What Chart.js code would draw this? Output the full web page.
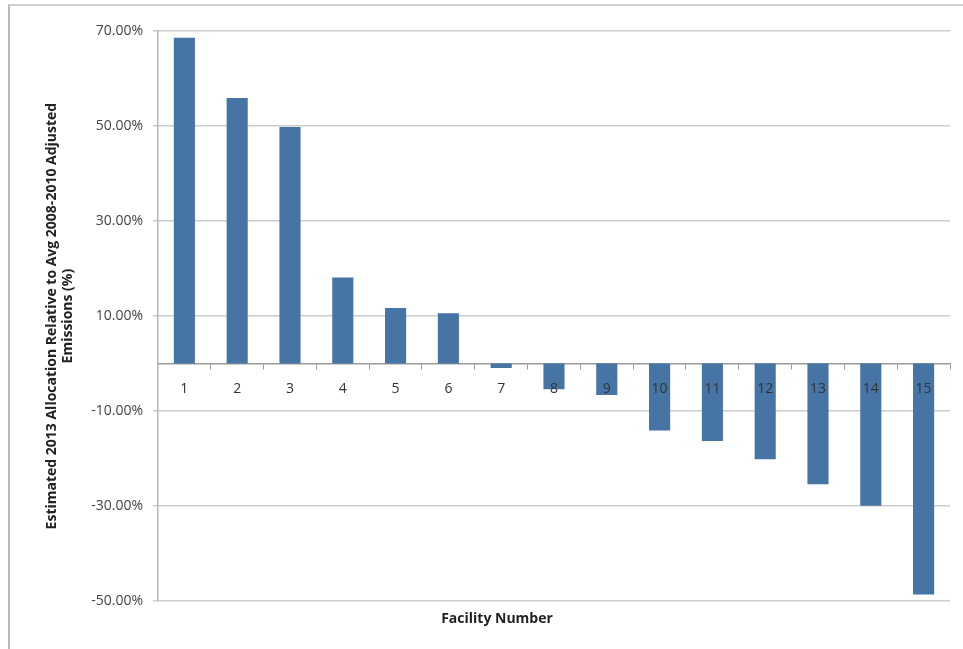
<!DOCTYPE html>
<html>
<head>
<meta charset="utf-8">
<script src="https://cdn.jsdelivr.net/npm/chart.js@4.4.1/dist/chart.umd.min.js"></script>
<style>
  html, body { margin: 0; padding: 0; background: #fff; }
  #frame {
    position: absolute; left: 8px; top: 4px; width: 970px; height: 660px;
    border-top: 2px solid #cfcfcf; border-left: 2px solid #b8b8b8;
  }
  #wrap { position: absolute; left: 0; top: 0; width: 963px; height: 649px; }
</style>
</head>
<body>
<div id="frame"></div>
<div id="wrap"><canvas id="grafico-alocacao"></canvas></div>
<script>
const facilities = ['1', '2', '3', '4', '5', '6', '7', '8', '9', '10', '11', '12', '13', '14', '15'];
const allocationPct = [68.6, 55.9, 49.8, 18.1, 11.7, 10.6, -0.9, -5.4, -6.6, -14.1, -16.3, -20.1, -25.4, -29.9, -48.6];
const yTicks = [-50, -30, -10, 10, 30, 50, 70];
const yTitle = ['Estimated 2013 Allocation Relative to Avg 2008-2010 Adjusted', 'Emissions (%)'];
const xTitle = 'Facility Number';

const fonte = '"Open Sans", Lato, sans-serif';

const config = {
  type: 'bar',
  data: {
    labels: facilities,
    datasets: [
      {
        label: 'Allocation',
        data: allocationPct,
        backgroundColor: '#4674a5',
        borderWidth: 0,
        categoryPercentage: 1,
        barPercentage: 0.4,
      },
    ],
  },
  options: {
    responsive: true,
    maintainAspectRatio: false,
    animation: false,
    layout: {
      padding: { top: 31, right: 13, left: 44, bottom: 22 },
    },
    plugins: {
      legend: { display: false },
      tooltip: { enabled: false },
      title: {
        display: true,
        text: xTitle,
        position: 'bottom',
        color: '#222',
        font: { family: fonte, size: 14, weight: 'bold' },
        padding: { top: 9, bottom: 0 },
      },
    },
    scales: {
      x: {
        position: { y: 0 },
        grid: {
          display: true,
          drawOnChartArea: false,
          drawTicks: true,
          tickLength: 5,
          color: '#9a9a9a',
          offset: true,
        },
        border: { display: true, color: '#9a9a9a', width: 1.5 },
        ticks: {
          z: 1,
          color: '#333',
          padding: 12,
          maxRotation: 0,
          font: { family: fonte, size: 14 },
        },
      },
      y: {
        min: -50,
        max: 70,
        afterBuildTicks: function (axis) {
          axis.ticks = yTicks.map((v) => ({ value: v }));
        },
        grid: {
          color: '#cccccc',
          lineWidth: 1.5,
          tickLength: 5,
        },
        border: { display: true, color: '#b5b5b5', width: 1.5 },
        ticks: {
          color: '#444',
          padding: 10,
          font: { family: fonte, size: 14 },
          callback: function (value) {
            return value.toFixed(2) + '%';
          },
        },
        title: {
          display: true,
          text: yTitle,
          color: '#222',
          font: { family: fonte, size: 14, weight: 'bold', lineHeight: 1.15 },
          padding: { top: 0, bottom: 5 },
        },
      },
    },
  },
};

let grafico = new Chart(document.getElementById('grafico-alocacao').getContext('2d'), config);
</script>
</body>
</html>
